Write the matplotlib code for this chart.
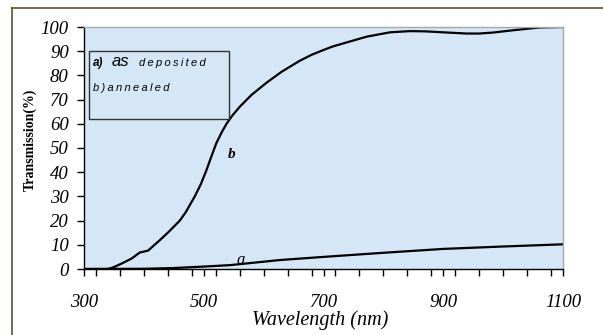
import matplotlib.pyplot as plt
from matplotlib.ticker import MultipleLocator

# curve b: annealed film
wl_b = [300, 320, 340, 350, 365, 380, 393, 400, 407, 427, 440, 450, 460, 470,
        485, 495, 504, 512, 521, 530, 538, 548, 560, 580, 605, 630, 660, 680,
        700, 716, 744, 772, 811, 844, 870, 900, 939, 960, 983, 1022, 1061, 1100]
tr_b = [0, 0, 0, 0.8, 2.5, 4.4, 6.8, 7.2, 7.6, 12, 15, 17.5, 20, 23.5,
        30, 35, 40.5, 46, 52, 56.5, 60, 63.5, 67, 72, 77, 81.5, 86, 88.5,
        90.5, 92, 94, 96, 97.8, 98.3, 98.2, 97.8, 97.3, 97.3, 97.7, 98.8, 99.8, 100]

# curve a: as deposited film
wl_a = [300, 400, 450, 500, 544, 627, 700, 800, 900, 1000, 1100]
tr_a = [0, 0.1, 0.4, 1.0, 1.6, 3.7, 5.0, 6.7, 8.3, 9.3, 10.2]

x_labels = [300, 500, 700, 900, 1100]

fig = plt.figure(figsize=(6.03, 3.35), dpi=100)
W, H = 603, 335
ax = fig.add_axes([84 / W, 1 - 269 / H, (563 - 84) / W, (269 - 27) / H])
ax.set_facecolor('#d5e6f6')

ax.plot(wl_b, tr_b, color='black', lw=1.6)
ax.plot(wl_a, tr_a, color='black', lw=1.6)

ax.set_xlim(300, 1100)
ax.set_ylim(0, 100)
ax.set_xticks(x_labels)
ax.xaxis.set_minor_locator(MultipleLocator(40))
ax.yaxis.set_major_locator(MultipleLocator(10))
ax.tick_params(axis='both', which='both', direction='out', length=5, width=1, color='black')
ax.tick_params(axis='x', pad=13)
ax.tick_params(axis='y', pad=6)

for lab in ax.get_xticklabels() + ax.get_yticklabels():
    lab.set_fontfamily('Liberation Serif')
    lab.set_fontstyle('italic')
    lab.set_fontsize(13.5)

for s in ['left', 'bottom']:
    ax.spines[s].set_color('black')
    ax.spines[s].set_linewidth(1)
for s in ['top', 'right']:
    ax.spines[s].set_color('#a8a8a8')
    ax.spines[s].set_linewidth(1)

# curve labels
ax.text(555, 2.0, 'a', family='Liberation Serif', style='italic', fontsize=12)
ax.text(540, 46, 'b', family='Liberation Serif', style='italic', weight='bold', fontsize=11)

# legend-like box
sp = '\u2009'
fam = ['Liberation Sans', 'DejaVu Sans']
fig.patches.append(plt.Rectangle((89 / W, 1 - 119 / H), (229 - 89) / W, (119 - 51) / H,
                                 transform=fig.transFigure, fill=False, ec='#333333', lw=1))
fig.text(93 / W, 1 - 63 / H, 'a)', family=fam, style='italic', weight='bold',
         fontsize=8.5, va='center')
fig.text(112 / W, 1 - 62 / H, 'as', family=fam, style='italic', fontsize=12,
         va='center')
fig.text(139 / W, 1 - 63 / H, sp.join('deposited'), family=fam, style='italic',
         fontsize=8, va='center')
fig.text(93 / W, 1 - 88 / H, sp.join('b)annealed'), family=fam, style='italic',
         fontsize=8, va='center')

fig.text(30 / W, 1 - 140 / H, 'Transmission(%)', family='Liberation Serif', weight='bold',
         fontsize=10, rotation=90, ha='center', va='center')
fig.text(320 / W, 1 - 320 / H, 'Wavelength (nm)', family='Liberation Serif', style='italic',
         fontsize=14.5, ha='center', va='center')

# outer frame (top and left edges)
fig.add_artist(plt.Line2D([12 / W, 1], [1 - 8 / H, 1 - 8 / H], color='#55552a', lw=1.2,
                          transform=fig.transFigure))
fig.add_artist(plt.Line2D([12 / W, 12 / W], [0, 1 - 8 / H], color='#55552a', lw=1.2,
                          transform=fig.transFigure))

fig.savefig('out.png', dpi=100)
